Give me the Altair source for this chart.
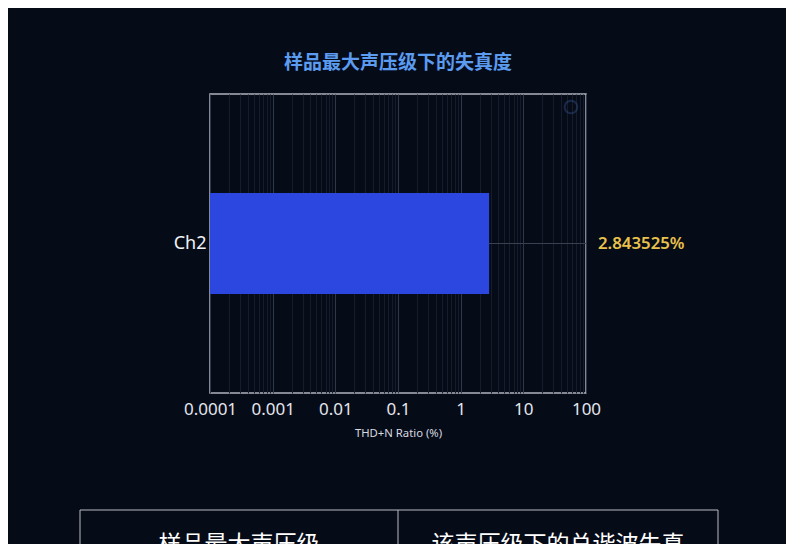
import altair as alt
import pandas as pd

# ---- data ----
channels = ["Ch2"]
thdn_values = [2.843525]
value_labels = ["2.843525%"]
axis_min = 0.0001
axis_max = 100
decades = [0.0001, 0.001, 0.01, 0.1, 1, 10]
multiples = [1, 2, 3, 4, 5, 6, 7, 8, 9]
table_headers = ["样品最大声压级", "该声压级下的总谐波失真"]

tick_values = [d * m for d in decades for m in multiples] + [axis_max]

df = pd.DataFrame({
    "channel": channels,
    "value": thdn_values,
    "base": [axis_min] * len(channels),
    "label": value_labels,
})

W, H = 376, 299
BG = "#060b18"
FONT = "Noto Sans"
CJK = "Noto Sans CJK SC"

is_major = "abs(log(datum.value)/LN10 - round(log(datum.value)/LN10)) < 0.001"

x_enc = alt.X(
    "value:Q",
    scale=alt.Scale(type="log", domain=[axis_min, axis_max], nice=False),
    axis=alt.Axis(
        values=tick_values,
        labelExpr=f"({is_major}) ? format(datum.value, '~g') : ''",
        grid=True,
        gridColor={"condition": {"test": is_major, "value": "#30374a"}, "value": "#161c2b"},
        gridWidth=1,
        ticks=False,
        domain=False,
        labelColor="#e4e6ec",
        labelFontSize=17,
        labelFont=FONT,
        labelPadding=8,
        labelFlush=False,
        labelOverlap=False,
        title="THD+N Ratio (%)",
        titleFont=FONT,
        titleFontSize=11.3,
        titleFontWeight="normal",
        titleColor="#d8dae0",
        titlePadding=10,
    ),
)

y_enc = alt.Y(
    "channel:N",
    axis=alt.Axis(
        title=None,
        ticks=False,
        domain=False,
        grid=True,
        gridColor="#3a4050",
        bandPosition=0.5,
        labelColor="#f0f2f6",
        labelFontSize=18,
        labelFont=FONT,
        labelPadding=4,
    ),
)

bars = alt.Chart(df).mark_bar(size=101, color="#2b47e0").encode(
    x=x_enc, x2="base:Q", y=y_enc
)

value_text = alt.Chart(df).mark_text(
    align="left", baseline="middle", fontSize=16.8, fontWeight=600,
    font=FONT, color="#e8c24c"
).encode(x=alt.value(W + 12), y=alt.Y("channel:N"), text="label:N")

# faint logo mark in the top-right corner of the plot
logo = alt.Chart(df).mark_point(
    shape="circle", size=160, stroke="#3d5f9e", strokeWidth=2, opacity=0.35, filled=False
).encode(x=alt.value(361), y=alt.value(13))

# ---- table header below the chart ----
line_col = "#b8bcc4"
tbl_top = 416
tbl_left = -130
tbl_right = 508
tbl_mid = 188
rule_top = alt.Chart(df).mark_rule(color=line_col, strokeWidth=1).encode(
    x=alt.value(tbl_left), x2=alt.value(tbl_right), y=alt.value(tbl_top))
rule_l = alt.Chart(df).mark_rule(color=line_col, strokeWidth=1).encode(
    x=alt.value(tbl_left), y=alt.value(tbl_top), y2=alt.value(tbl_top + 80))
rule_m = alt.Chart(df).mark_rule(color=line_col, strokeWidth=1).encode(
    x=alt.value(tbl_mid), y=alt.value(tbl_top), y2=alt.value(tbl_top + 80))
rule_r = alt.Chart(df).mark_rule(color=line_col, strokeWidth=1).encode(
    x=alt.value(tbl_right), y=alt.value(tbl_top), y2=alt.value(tbl_top + 80))

hdr1 = alt.Chart(df).mark_text(
    text=table_headers[0], fontSize=23, font=CJK, color="#ffffff",
    baseline="top", align="center").encode(x=alt.value(29), y=alt.value(440))
hdr2 = alt.Chart(df).mark_text(
    text=table_headers[1], fontSize=23, font=CJK, color="#ffffff",
    baseline="top", align="center").encode(x=alt.value(348), y=alt.value(440))

chart = alt.layer(
    bars, value_text, logo, rule_top, rule_l, rule_m, rule_r, hdr1, hdr2
).properties(
    width=W,
    height=H,
    padding={"left": 202, "top": 86, "right": 200, "bottom": 180},
    autosize=alt.AutoSizeParams(type="none"),
    title=alt.TitleParams(
        "样品最大声压级下的失真度",
        font=CJK, fontSize=19, fontWeight="bold", color="#5b9cf0",
        anchor="middle", baseline="bottom", offset=2,
    ),
).configure(
    background=BG,
).configure_view(
    stroke="#aeb3bd", strokeWidth=1.5, fill=BG
)

chart.save("out.html", embed_options={"renderer": "svg", "actions": False})
